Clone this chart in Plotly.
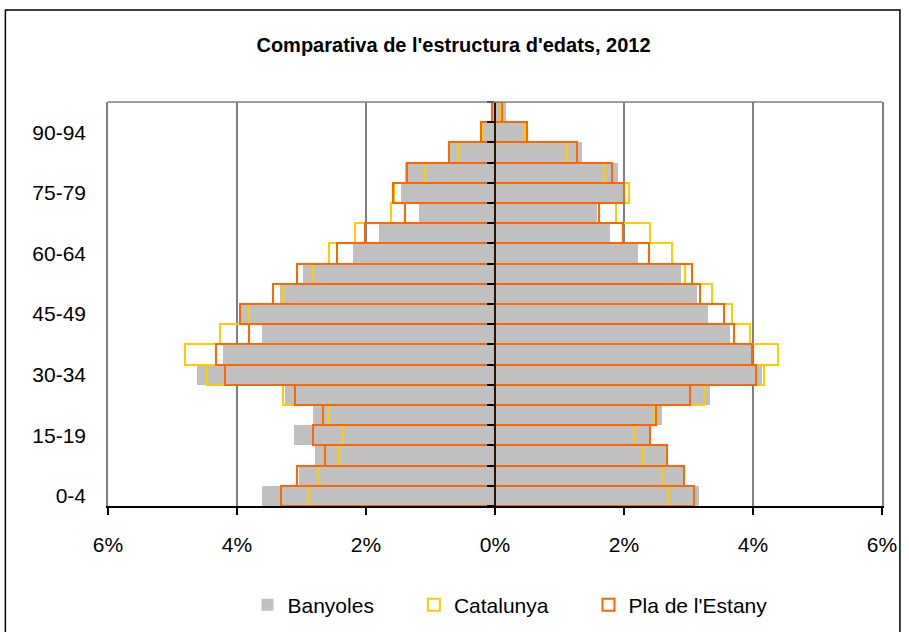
import plotly.graph_objects as go

ages = ["0-4", "5-9", "10-14", "15-19", "20-24", "25-29", "30-34", "35-39", "40-44",
        "45-49", "50-54", "55-59", "60-64", "65-69", "70-74", "75-79", "80-84",
        "85-89", "90-94", "95+"]

# left half of the pyramid (percent of population)
banyoles_left = [3.62, 3.04, 2.79, 3.12, 2.82, 3.25, 4.62, 4.21, 3.62, 3.94, 3.33, 2.97,
                 2.20, 1.80, 1.18, 1.46, 1.40, 0.71, 0.18, 0.04]
catalunya_left = [2.88, 2.75, 2.42, 2.35, 2.58, 3.28, 4.46, 4.80, 4.27, 3.81, 3.29, 2.82,
                  2.57, 2.17, 1.61, 1.56, 1.09, 0.57, 0.20, 0.05]
pla_left = [3.32, 3.07, 2.64, 2.82, 2.66, 3.10, 4.18, 4.33, 3.81, 3.96, 3.44, 3.07,
            2.45, 2.02, 1.40, 1.58, 1.36, 0.72, 0.22, 0.05]

# right half of the pyramid (percent of population)
banyoles_right = [3.17, 2.93, 2.67, 2.40, 2.59, 3.33, 4.14, 3.98, 3.65, 3.30, 3.13, 2.88,
                  2.22, 1.79, 1.58, 2.00, 1.91, 1.35, 0.45, 0.17]
catalunya_right = [2.68, 2.59, 2.29, 2.16, 2.47, 3.24, 4.17, 4.39, 3.96, 3.68, 3.37, 2.94,
                   2.75, 2.41, 1.88, 2.07, 1.69, 1.11, 0.46, 0.09]
pla_right = [3.09, 2.93, 2.66, 2.41, 2.50, 3.03, 4.05, 3.99, 3.71, 3.55, 3.18, 3.06,
             2.38, 1.98, 1.61, 2.00, 1.82, 1.27, 0.49, 0.11]

x_ticks = [-6, -4, -2, 0, 2, 4, 6]
x_tick_labels = ["6%", "4%", "2%", "0%", "2%", "4%", "6%"]
y_tick_labels = ["0-4", "15-19", "30-34", "45-49", "60-64", "75-79", "90-94"]

FONT = "Liberation Sans Narrow, Arial Narrow, Liberation Sans, Arial, sans-serif"
PAD = "\u00a0" * 6  # spacing between legend entries

series = [
    ("Banyoles", PAD, banyoles_left, banyoles_right, "y",
     dict(color="#C0C0C0", line=dict(width=0))),
    ("Catalunya", PAD, catalunya_left, catalunya_right, "y",
     dict(color="rgba(0,0,0,0)", line=dict(color="#FFCC00", width=2))),
    ("Pla de l'Estany", "", pla_left, pla_right, "y2",
     dict(color="rgba(0,0,0,0)", line=dict(color="#FF6600", width=2))),
]

fig = go.Figure()
for name, pad, left, right, yax, marker in series:
    fig.add_trace(go.Bar(
        y=ages, x=[-v for v in left], orientation="h", name=name + pad, yaxis=yax,
        legendgroup=name, showlegend=True, marker=marker, hoverinfo="skip"))
    fig.add_trace(go.Bar(
        y=ages, x=right, orientation="h", name=name + pad, yaxis=yax,
        legendgroup=name, showlegend=False, marker=marker, hoverinfo="skip"))

fig.update_layout(
    width=909, height=632,
    paper_bgcolor="white", plot_bgcolor="white",
    margin=dict(l=108, r=24, t=102, b=126),
    barmode="overlay", bargap=0,
    font=dict(family=FONT, size=21, color="black"),
    title=dict(text="<b>Comparativa de l'estructura d'edats, 2012</b>",
               font=dict(family=FONT, size=20, color="black"),
               x=453.5 / 909, xanchor="center", xref="container",
               y=1 - 45 / 632, yanchor="middle", yref="container"),
    xaxis=dict(range=[-6, 6], tickmode="array", tickvals=x_ticks, ticktext=x_tick_labels,
               showgrid=True, gridcolor="#808080", gridwidth=1.5, zeroline=False,
               showline=True, linecolor="black", linewidth=1.5,
               ticks="outside", ticklen=7, tickcolor="black", tickwidth=1.5,
               ticklabelstandoff=12, fixedrange=True),
    yaxis=dict(type="category", categoryorder="array", categoryarray=ages,
               range=[-0.5, len(ages) - 0.5],
               tickmode="array", tickvals=y_tick_labels, ticktext=y_tick_labels,
               showgrid=False, zeroline=False, showline=True, linecolor="#808080",
               linewidth=1.5, mirror=True, ticks="", ticklabelstandoff=16,
               fixedrange=True),
    yaxis2=dict(type="category", categoryorder="array", categoryarray=ages,
                overlaying="y", anchor="free", position=0.5, side="left",
                range=[-0.5, len(ages) - 0.5], tickmode="linear", tick0=0, dtick=1,
                tickson="boundaries",
                showgrid=False, zeroline=False, showticklabels=False,
                showline=True, linecolor="#2a1200", linewidth=2, layer="above traces",
                ticks="outside", ticklen=7, tickcolor="black", tickwidth=1.5,
                fixedrange=True),
    legend=dict(orientation="h", x=510 / 909, xanchor="center", xref="container",
                y=1 - 605 / 632, yanchor="middle", yref="container",
                font=dict(family=FONT, size=21, color="black"),
                bgcolor="rgba(0,0,0,0)"),
    showlegend=True,
)

# plot-area frame (top edge) and outer chart border
fig.add_shape(type="line", xref="paper", yref="paper", x0=0, x1=1, y0=1, y1=1,
              line=dict(color="#808080", width=1.5))
fig.add_shape(type="rect", xref="paper", yref="paper",
              x0=(5 - 108) / 777, x1=(903 - 108) / 777,
              y0=(506 - 650) / 404, y1=(506 - 10) / 404,
              line=dict(color="black", width=1.5), fillcolor="rgba(0,0,0,0)")

fig.write_html("out.html", config={"displayModeBar": False},
               post_script="document.body.style.margin='0';")
